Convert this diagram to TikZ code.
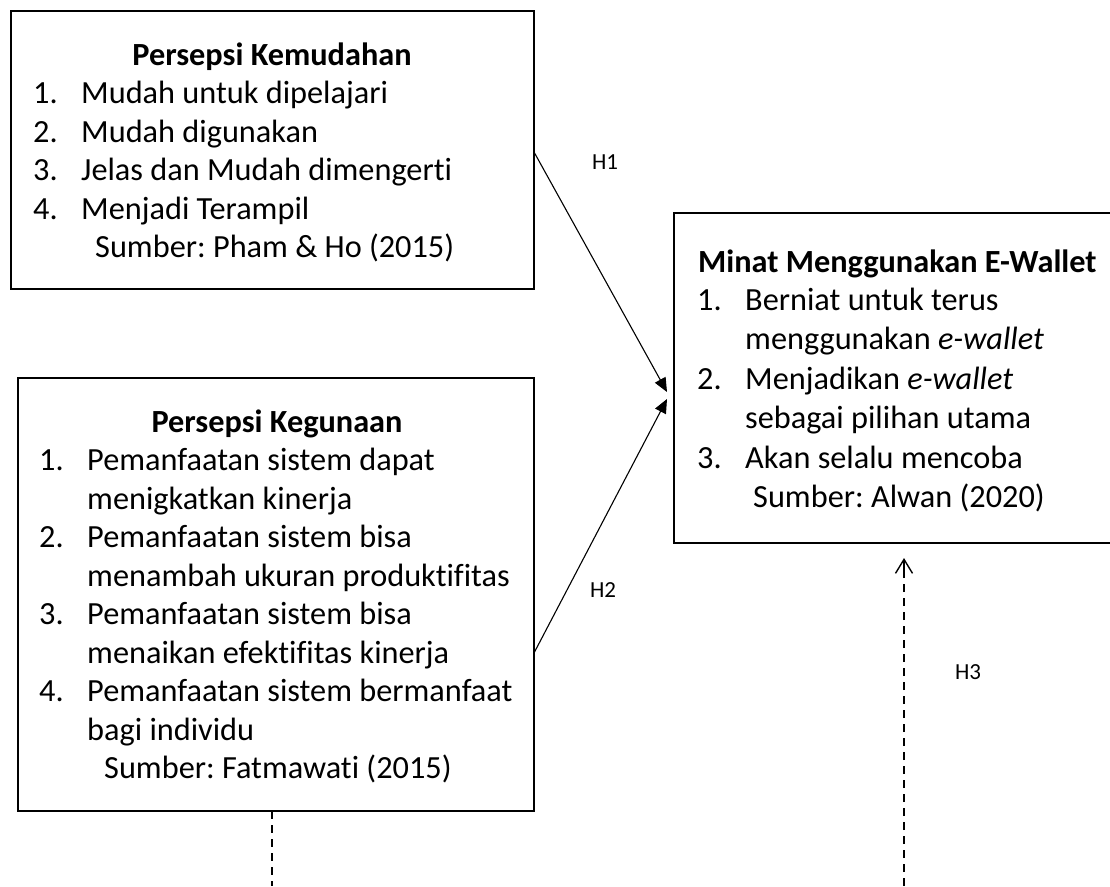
\documentclass[tikz,border=0pt]{standalone}
\usepackage{fontspec}
\setmainfont[Ligatures=NoCommon]{Carlito}
\frenchspacing
\usetikzlibrary{arrows.meta}
\tikzset{
  box/.style={draw, line width=2pt, anchor=north west, outer sep=0pt, inner sep=0pt},
  txt/.style={anchor=base west, inner sep=0pt, font=\fontsize{32.3}{38}\selectfont},
  ttl/.style={anchor=base, inner sep=0pt, font=\fontsize{32.3}{38}\selectfont\bfseries},
  hl/.style={inner sep=0pt, font=\fontsize{23}{28}\selectfont},
  arr/.style={line width=1.1pt, -{Triangle[length=14pt,width=12pt]}},
  dsh/.style={line width=1.6pt, dash pattern=on 8pt off 6pt},
}
\begin{document}
\begin{tikzpicture}[x=1pt,y=-1pt]
\useasboundingbox (0,0) rectangle (1110,886);
\clip (0,0) rectangle (1110,886);
% boxes
\node[box, minimum width=523pt, minimum height=278pt] (b1) at (11,11) {};
\node[box, minimum width=516pt, minimum height=433pt] (b2) at (18,378) {};
\node[box, minimum width=470pt, minimum height=330pt] (b3) at (674,213) {};
% box 1 text
\node[ttl] (k0) at (272,65) {Persepsi Kemudahan};
\node[txt] (k1n) at (33,103.5) {1.};
\node[txt] (k1) at (81,103.5) {Mudah untuk dipelajari};
\node[txt] (k2n) at (33,142) {2.};
\node[txt] (k2) at (81,142) {Mudah digunakan};
\node[txt] (k3n) at (33,180.5) {3.};
\node[txt] (k3) at (81,180.5) {Jelas dan Mudah dimengerti};
\node[txt] (k4n) at (33,219) {4.};
\node[txt] (k4) at (81,219) {Menjadi Terampil};
\node[txt] (ks) at (95,257.5) {Sumber: Pham \& Ho (2015)};
% box 2 text
\node[ttl] (g0) at (277,432) {Persepsi Kegunaan};
\node[txt] (g1n) at (39,470.5) {1.};
\node[txt] (g1) at (87,470.5) {Pemanfaatan sistem dapat};
\node[txt] (g1b) at (87,509) {menigkatkan kinerja};
\node[txt] (g2n) at (39,547.5) {2.};
\node[txt] (g2) at (87,547.5) {Pemanfaatan sistem bisa};
\node[txt] (g2b) at (87,586) {menambah ukuran produktifitas};
\node[txt] (g3n) at (39,624.5) {3.};
\node[txt] (g3) at (87,624.5) {Pemanfaatan sistem bisa};
\node[txt] (g3b) at (87,663) {menaikan efektifitas kinerja};
\node[txt] (g4n) at (39,701.5) {4.};
\node[txt] (g4) at (87,701.5) {Pemanfaatan sistem bermanfaat};
\node[txt] (g4b) at (87,740) {bagi individu};
\node[txt] (gs) at (104,778.5) {Sumber: Fatmawati (2015)};
% box 3 text
\node[txt, font=\fontsize{32.3}{38}\selectfont\bfseries] (m0) at (698,272) {Minat Menggunakan E-Wallet};
\node[txt] (m1n) at (697,310) {1.};
\node[txt] (m1) at (745,310) {Berniat untuk terus};
\node[txt] (m1b) at (745,349) {menggunakan \textit{e-wallet}};
\node[txt] (m2n) at (697,389) {2.};
\node[txt] (m2) at (745,389) {Menjadikan \textit{e-wallet}};
\node[txt] (m2b) at (745,428) {sebagai pilihan utama};
\node[txt] (m3n) at (697,468) {3.};
\node[txt] (m3) at (745,468) {Akan selalu mencoba};
\node[txt] (ms) at (753,507) {Sumber: Alwan (2020)};
% labels
\node[hl] (h1) at (605,162) {H1};
\node[hl] (h2) at (603,590) {H2};
\node[hl] (h3) at (968,672) {H3};
% connectors
\coordinate (s1) at (b1.east |- 0,152);
\coordinate (t1) at (667,392);
\coordinate (s2) at (b2.east |- 0,653);
\coordinate (t2) at (667,399);
\draw[arr] (s1) -- (t1);
\draw[arr] (s2) -- (t2);
\coordinate (d1) at (272,886);
\draw[dsh] (b2.south -| d1) -- (d1);
\coordinate (d2s) at (904,886);
\coordinate (d2t) at (904,558);
\draw[dsh] (d2s) -- (904,575);
\draw[line width=1.4pt, -{Straight Barb[length=14pt,width=17pt]}] (904,575) -- (d2t);
\end{tikzpicture}
\end{document}
